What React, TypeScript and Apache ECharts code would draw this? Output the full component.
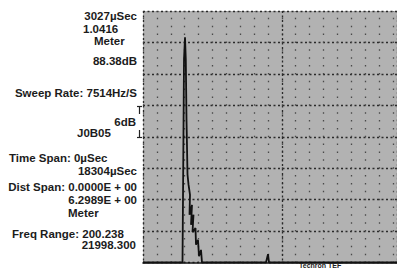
import React, { useEffect, useRef } from "react";
import * as echarts from "echarts";

// Time axis (µs) and level (dB above the bottom graticule line)
const timeUs = [0, 2846, 2882, 2955, 3027, 3084, 3135, 3207, 3279, 3387, 3351, 3531, 3459, 3639, 3567, 3783, 3819, 3963, 4035, 4179, 4251, 8863, 9008, 9080, 18304];
const levelDb = [0, 0, 12.0, 38.8, 43.0, 38.8, 27.3, 16.8, 14.9, 12.9, 9.1, 11.0, 7.2, 9.1, 5.8, 6.6, 3.4, 4.3, 1.2, 2.4, 0, 0, 1.6, 0, 0];

const timeSpanUs = [0, 18304];
const levelRangeDb = [0, 48];
const minorStepUs = 1000;
const majorStepUs = 10000;
const dbPerDiv = 6;

// Side annotation texts: [text, x, y, align]
const sideTexts: [string, number, number, string][] = [
  ["3027\u00b5Sec", 137, 16, "right"],
  ["1.0416", 83, 29, "left"],
  ["Meter", 94, 41, "left"],
  ["88.38dB", 137, 61, "right"],
  ["Sweep Rate: 7514Hz/S", 137, 93, "right"],
  ["6dB", 136, 122, "right"],
  ["J0B05", 77, 133, "left"],
  ["Time Span: 0\u00b5Sec", 9, 158, "left"],
  ["18304\u00b5Sec", 137, 171, "right"],
  ["Dist Span: 0.0000E + 00", 137, 187, "right"],
  ["6.2989E + 00", 137, 200, "right"],
  ["Meter", 68, 213, "left"],
  ["Freq Range: 200.238", 12, 234, "left"],
  ["21998.300", 136, 245, "right"],
];

export default function App() {
  const ref = useRef<HTMLDivElement>(null);
  useEffect(() => {
    if (!ref.current) return;
    const chart = echarts.init(ref.current, undefined, { renderer: "svg" });
    const data = timeUs.map((t, i) => [t, levelDb[i]]);
    const font = "bold 11.5px 'Liberation Sans', Arial, sans-serif";
    const graphics: any[] = sideTexts.map(([text, x, y, align]) => ({
      type: "text",
      x,
      y,
      style: { text, font, fill: "#1c1c1c", textAlign: align, textVerticalAlign: "middle" },
    }));
    graphics.push(
      { type: "line", shape: { x1: 137, y1: 106.5, x2: 142, y2: 106.5 }, style: { stroke: "#222", lineWidth: 1.2 } },
      { type: "line", shape: { x1: 139.5, y1: 106.5, x2: 139.5, y2: 114 }, style: { stroke: "#222", lineWidth: 1.2 } },
      { type: "line", shape: { x1: 139.5, y1: 130, x2: 139.5, y2: 137.5 }, style: { stroke: "#222", lineWidth: 1.2 } },
      { type: "line", shape: { x1: 137, y1: 137.5, x2: 142, y2: 137.5 }, style: { stroke: "#222", lineWidth: 1.2 } },
      {
        type: "text",
        x: 299,
        y: 269,
        z: 100,
        style: {
          text: "Techron TEF",
          font: "bold 7px 'Liberation Sans', Arial, sans-serif",
          fill: "#222",
          textVerticalAlign: "bottom",
        },
      }
    );
    chart.setOption({
      animation: false,
      backgroundColor: "#ffffff",
      grid: {
        left: 143,
        top: 11,
        right: 0,
        bottom: 6.5,
        show: true,
        backgroundColor: "#b2b2b2",
        borderWidth: 0,
      },
      xAxis: [
        {
          type: "value",
          min: timeSpanUs[0],
          max: timeSpanUs[1],
          interval: minorStepUs,
          axisLine: { show: true, onZero: false, lineStyle: { color: "#111", width: 1.6 } },
          axisTick: { show: false },
          axisLabel: { show: false },
          splitLine: {
            show: true,
            lineStyle: { color: "#4a4a4a", width: 1.3, type: [1.5, 6.36], dashOffset: 0.75 },
          },
        },
        {
          type: "value",
          position: "bottom",
          min: timeSpanUs[0],
          max: timeSpanUs[1],
          interval: majorStepUs,
          axisLine: { show: false },
          axisTick: { show: false },
          axisLabel: { show: false },
          splitLine: { show: true, lineStyle: { color: "#2a2a2a", width: 1.3, type: [2, 2.5] } },
        },
      ],
      yAxis: [
        {
          type: "value",
          min: levelRangeDb[0],
          max: levelRangeDb[1],
          interval: dbPerDiv,
          axisLine: { show: false },
          axisTick: { show: false },
          axisLabel: { show: false },
          splitLine: { show: true, lineStyle: { color: "#2a2a2a", width: 1.3, type: [2, 2.5] } },
        },
      ],
      series: [
        {
          type: "line",
          xAxisIndex: 0,
          yAxisIndex: 0,
          data,
          showSymbol: false,
          symbol: "none",
          lineStyle: { color: "#111", width: 1.8 },
          clip: true,
          z: 5,
        },
      ],
      graphic: graphics,
    });
    return () => chart.dispose();
  }, []);
  return (
    <div
      ref={ref}
      style={{ position: "fixed", left: 0, top: 0, width: 397, height: 269, background: "#fff" }}
    />
  );
}
